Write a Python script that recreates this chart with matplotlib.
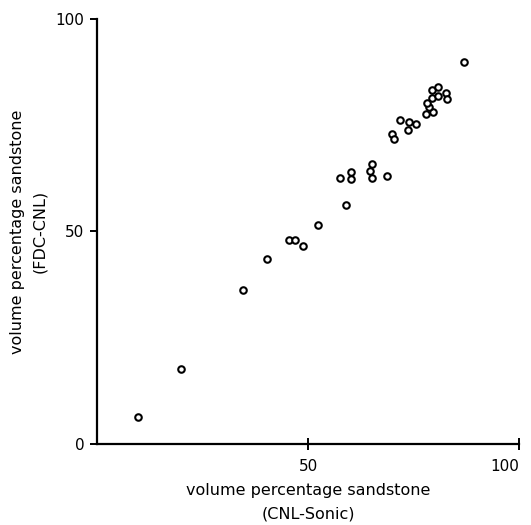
import matplotlib.pyplot as plt

# volume percentage sandstone
cnl_sonic = [9.6, 19.8, 34.7, 40.3, 45.5, 47.0, 48.7, 52.4, 59.1, 57.6, 60.2,
             60.3, 65.1, 64.8, 65.1, 68.7, 70.0, 70.4, 71.9, 74.0, 73.8, 75.5,
             77.9, 79.6, 78.7, 78.2, 79.3, 79.3, 80.7, 80.7, 82.7, 82.9, 86.9]
fdc_cnl = [6.4, 17.6, 36.2, 43.5, 47.9, 48.0, 46.5, 51.5, 56.3, 62.7, 64.0,
           62.3, 65.8, 64.2, 62.6, 63.1, 73.0, 71.7, 76.2, 75.7, 74.0, 75.2,
           77.7, 78.2, 79.4, 80.3, 81.5, 83.3, 84.1, 82.0, 82.5, 81.2, 89.9]

x_ticks = [50, 100]
y_ticks = [0, 50, 100]

fig = plt.figure(figsize=(5.31, 5.25), dpi=100)
ax = fig.add_axes([0.1827, 0.1543, 0.7947, 0.8095])

ax.scatter(cnl_sonic, fdc_cnl, s=22, facecolors="white", edgecolors="black",
           linewidths=1.5, zorder=3)

ax.set_xlim(0, 100)
ax.set_ylim(0, 100)
ax.spines["top"].set_visible(False)
ax.spines["right"].set_visible(False)
for side in ("left", "bottom"):
    ax.spines[side].set_linewidth(1.6)

ax.set_xticks(x_ticks)
ax.set_yticks(y_ticks)
ax.tick_params(axis="x", direction="inout", length=8, width=1.4, labelsize=11, pad=7)
ax.tick_params(axis="y", direction="out", length=5, width=1.4, labelsize=11, pad=4)
# the last x label sits left of its tick, so it stays inside the figure
ax.get_xticklabels()[-1].set_horizontalalignment("right")

ax.set_xlabel("volume percentage sandstone\n(CNL-Sonic)", fontsize=11.5,
              linespacing=1.7, labelpad=6)
ax.set_ylabel("volume percentage sandstone\n(FDC-CNL)", fontsize=11.5,
              linespacing=1.6, labelpad=6)

fig.savefig("out.png", dpi=100)
